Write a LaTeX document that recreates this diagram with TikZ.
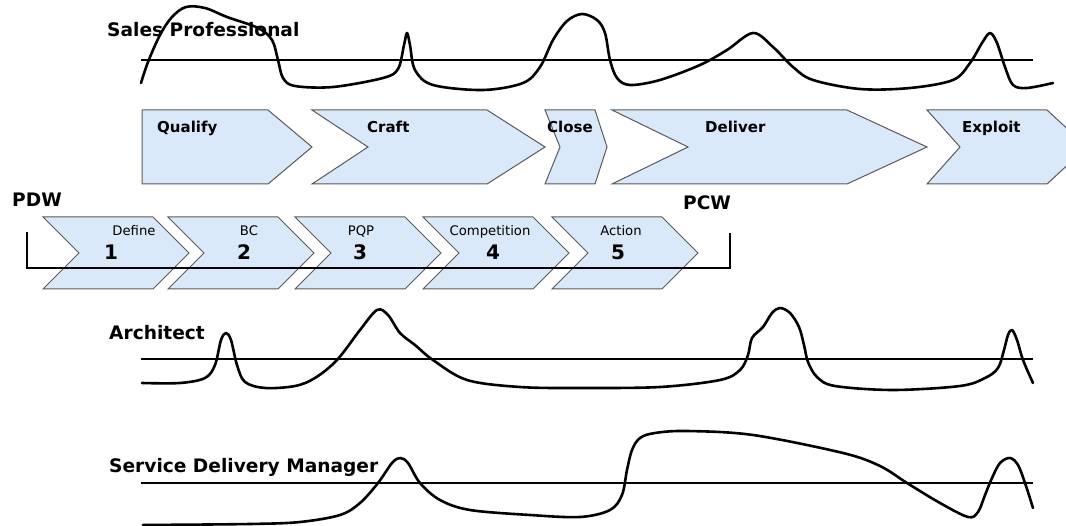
\documentclass[tikz,border=0pt]{standalone}
\usepackage{fontspec}
\setmainfont{DejaVu Sans}

\definecolor{stagefill}{RGB}{217,233,249}
\definecolor{stageline}{RGB}{90,90,90}

\tikzset{
  stage/.style={draw=stageline, fill=stagefill, line width=1pt, line join=miter},
  baseline line/.style={line width=2.2pt},
  effort/.style={line width=2.6pt, line join=round, line cap=round},
  rolelabel/.style={font=\bfseries\fontsize{18.6}{22}\selectfont, anchor=base west, inner sep=0pt},
  stagelabel/.style={font=\bfseries\fontsize{15}{18}\selectfont, anchor=base west, inner sep=0pt},
  steplabel/.style={font=\fontsize{13.2}{16}\selectfont, anchor=base, inner sep=0pt},
  stepnum/.style={font=\bfseries\fontsize{20}{24}\selectfont, anchor=base, inner sep=0pt}
}

\begin{document}
\begin{tikzpicture}[x=1pt,y=1pt,yscale=-1,xscale=1]
\useasboundingbox (0,0) rectangle (1066,526);

%Stage Chevrons
\draw [stage] (142,110) -- (268,110) -- (312,147) -- (268,184) -- (142,184) -- cycle ;
\draw [stage] (312,110) -- (487,110) -- (545,147) -- (487,184) -- (312,184) -- (368,147) -- cycle ;
\draw [stage] (545,110) -- (595,110) -- (607,147) -- (595,184) -- (545,184) -- (560,147) -- cycle ;
\draw [stage] (612,110) -- (847,110) -- (927,147) -- (847,184) -- (612,184) -- (688,147) -- cycle ;
\draw [stage] (927,110) -- (1047,110) -- (1087,147) -- (1047,184) -- (927,184) -- (960,147) -- cycle ;

%Step Chevrons
\draw [stage] (43,217) -- (153,217) -- (189,253) -- (153,289) -- (43,289) -- (79,253) -- cycle ;
\draw [stage] (168,217) -- (278,217) -- (314,253) -- (278,289) -- (168,289) -- (204,253) -- cycle ;
\draw [stage] (295,217) -- (405,217) -- (441,253) -- (405,289) -- (295,289) -- (331,253) -- cycle ;
\draw [stage] (423,217) -- (533,217) -- (569,253) -- (533,289) -- (423,289) -- (459,253) -- cycle ;
\draw [stage] (552,217) -- (662,217) -- (698,253) -- (662,289) -- (552,289) -- (588,253) -- cycle ;

%Bracket
\draw [line width=2.5pt] (27,232) -- (27,268) -- (730,268) -- (730,233) ;

%Straight Lines
\draw [baseline line] (141,60) -- (1033,60) ;
\draw [baseline line] (141,359) -- (1033,359) ;
\draw [baseline line] (141,483) -- (1033,483) ;

%Curve Lines
\draw [effort] plot [smooth, tension=0.55] coordinates {
  (141,83) (148,62) (160,35) (172,17) (186,7) (205,8) (227,17) (258,28) (272,40)
  (278,60) (283,78) (295,86) (333,87) (383,78) (398,69) (404,45) (407,33) (410,45)
  (415,70) (433,85) (483,90) (523,83) (540,67) (553,40) (567,21) (582,14) (597,20)
  (605,33) (610,60) (617,78) (630,85) (660,80) (700,65) (727,50) (753,33) (773,47)
  (793,67) (813,80) (860,89) (910,88) (953,80) (970,63) (982,43) (990,33) (997,43)
  (1005,67) (1013,85) (1027,88) (1053,83) };
\draw [effort] plot [smooth, tension=0.55] coordinates {
  (142,383) (180,383) (205,378) (215,365) (221,340) (226,333) (231,340) (237,365)
  (245,382) (265,388) (295,386) (315,378) (337,360) (360,330) (377,310) (388,315)
  (400,333) (415,345) (433,360) (467,380) (520,387) (580,388) (660,387) (720,380)
  (740,370) (748,355) (752,338) (763,327) (772,313) (780,308) (790,313) (799,327)
  (804,345) (808,362) (817,377) (835,386) (893,390) (960,386) (985,378) (998,368)
  (1004,350) (1008,335) (1012,330) (1017,340) (1023,360) (1033,383) };
\draw [effort] plot [smooth, tension=0.55] coordinates {
  (143,525) (250,524) (300,522) (340,515) (360,503) (378,483) (392,463) (400,458)
  (408,463) (420,483) (440,500) (470,510) (530,515) (580,517) (610,510) (622,495)
  (627,470) (632,450) (640,438) (655,433) (687,431) (753,435) (843,453) (880,466)
  (907,483) (940,503) (968,517) (978,512) (985,495) (992,478) (1000,463) (1010,458)
  (1018,465) (1025,483) (1033,508) };

% Text Node
\node [rolelabel] (sales) at (107,36.5) {Sales Professional};
% Text Node
\node [rolelabel] (architect) at (109,340) {Architect};
% Text Node
\node [rolelabel] (sdm) at (109,472) {Service Delivery Manager};
% Text Node
\node [rolelabel] (pdw) at (12,207) {PDW};
% Text Node
\node [rolelabel] (pcw) at (683,210) {PCW};

% Text Node
\node [stagelabel] (qualify) at (157,133) {Qualify};
% Text Node
\node [stagelabel] (craft) at (367,133) {Craft};
% Text Node
\node [stagelabel] (close) at (547,133) {Close};
% Text Node
\node [stagelabel] (deliver) at (705,133) {Deliver};
% Text Node
\node [stagelabel] (exploit) at (962,133) {Exploit};

% Text Node
\node [steplabel] (define) at (134,236) {Define};
\node [stepnum] (one) at (111,260) {1};
% Text Node
\node [steplabel] (bc) at (249,236) {BC};
\node [stepnum] (two) at (244,260) {2};
% Text Node
\node [steplabel] (pqp) at (361,236) {PQP};
\node [stepnum] (three) at (360,260) {3};
% Text Node
\node [steplabel] (competition) at (490,236) {Competition};
\node [stepnum] (four) at (493,260) {4};
% Text Node
\node [steplabel] (action) at (621,236) {Action};
\node [stepnum] (five) at (618,260) {5};

\end{tikzpicture}
\end{document}
